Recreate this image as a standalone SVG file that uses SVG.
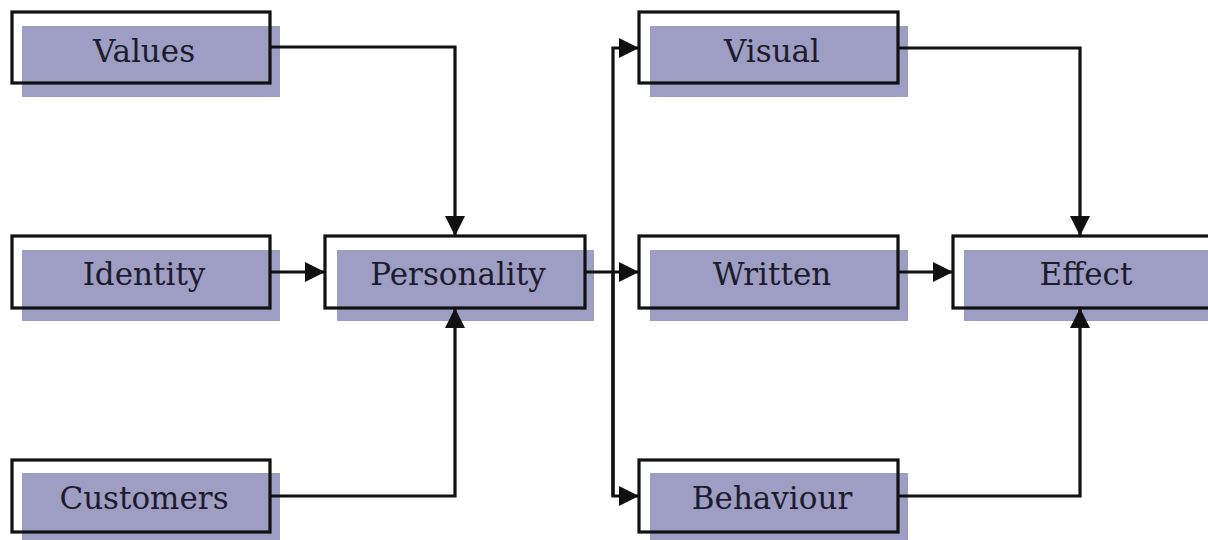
<svg xmlns="http://www.w3.org/2000/svg" width="1208" height="540" viewBox="0 0 1208 540">
  <style>
    .shade { fill: #9e9dc4; }
    .frame { fill: none; stroke: #111; stroke-width: 3.2; }
    .label { font-family: "DejaVu Serif", "Liberation Serif", serif; font-size: 31px; fill: #1c1c2c; text-anchor: middle; }
    .wire { fill: none; stroke: #111; stroke-width: 3.2; }
  </style>
  <defs>
    <marker id="arrow" viewBox="0 0 20 20" refX="20" refY="10" markerWidth="20" markerHeight="20" markerUnits="userSpaceOnUse" orient="auto">
      <path d="M0,0 L20,10 L0,20 Z" fill="#111"/>
    </marker>
  </defs>
  <rect width="1208" height="540" fill="#fff"/>

  <g id="values">
    <rect class="shade" x="22" y="26" width="258" height="71"/>
    <rect class="frame" x="12" y="12" width="258" height="71"/>
    <text class="label" x="144" y="62">Values</text>
  </g>
  <g id="identity">
    <rect class="shade" x="22" y="250" width="258" height="71"/>
    <rect class="frame" x="12" y="236" width="258" height="72"/>
    <text class="label" x="144" y="285">Identity</text>
  </g>
  <g id="customers">
    <rect class="shade" x="22" y="473" width="258" height="71"/>
    <rect class="frame" x="12" y="460" width="258" height="72"/>
    <text class="label" x="144" y="509">Customers</text>
  </g>
  <g id="personality">
    <rect class="shade" x="337" y="250" width="257" height="71"/>
    <rect class="frame" x="325" y="236" width="260" height="72"/>
    <text class="label" x="458" y="285">Personality</text>
  </g>
  <g id="visual">
    <rect class="shade" x="650" y="26" width="258" height="71"/>
    <rect class="frame" x="639" y="12" width="259" height="71"/>
    <text class="label" x="772" y="62">Visual</text>
  </g>
  <g id="written">
    <rect class="shade" x="650" y="250" width="258" height="71"/>
    <rect class="frame" x="639" y="236" width="259" height="72"/>
    <text class="label" x="772" y="285">Written</text>
  </g>
  <g id="behaviour">
    <rect class="shade" x="650" y="473" width="258" height="71"/>
    <rect class="frame" x="639" y="460" width="259" height="72"/>
    <text class="label" x="772" y="509">Behaviour</text>
  </g>
  <g id="effect">
    <rect class="shade" x="964" y="250" width="250" height="71"/>
    <rect class="frame" x="953" y="236" width="262" height="72"/>
    <text class="label" x="1086" y="285">Effect</text>
  </g>

  <!-- connectors, drawn over the shaded panels -->
  <g id="connectors">
    <path class="wire" d="M270,47 H455 V236" marker-end="url(#arrow)"/>
    <path class="wire" d="M270,272 H325" marker-end="url(#arrow)"/>
    <path class="wire" d="M270,496 H455 V308" marker-end="url(#arrow)"/>
    <path class="wire" d="M585,272 H639" marker-end="url(#arrow)"/>
    <path class="wire" d="M613,496 V48 H639" marker-end="url(#arrow)"/>
    <path class="wire" d="M613,272 V496 H639" marker-end="url(#arrow)"/>
    <path class="wire" d="M898,48 H1080 V236" marker-end="url(#arrow)"/>
    <path class="wire" d="M898,272 H953" marker-end="url(#arrow)"/>
    <path class="wire" d="M898,496 H1080 V308" marker-end="url(#arrow)"/>
  </g>
</svg>
